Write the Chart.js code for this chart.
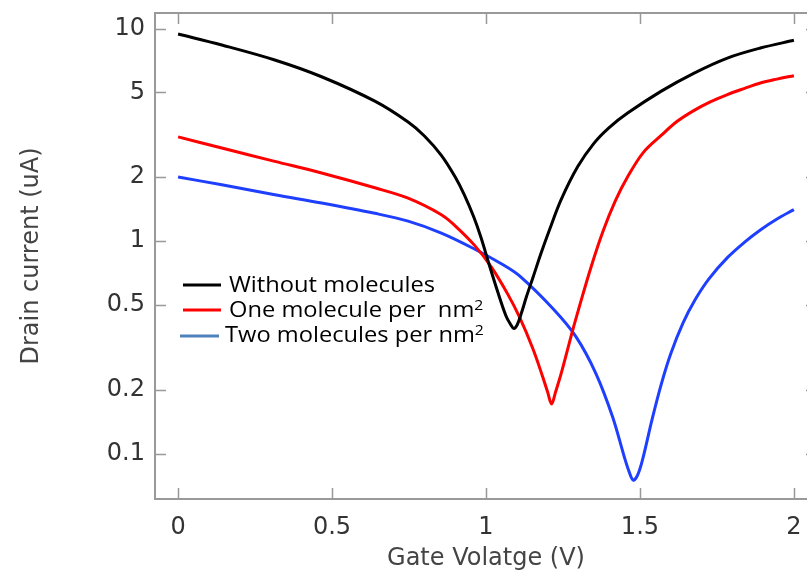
<!DOCTYPE html>
<html>
<head>
<meta charset="utf-8">
<script src="https://cdn.jsdelivr.net/npm/chart.js@4.4.1/dist/chart.umd.min.js"></script>
<style>
  html, body { margin: 0; padding: 0; background: #fff; overflow: hidden; }
  #wrap { width: 830px; height: 573px; }
</style>
</head>
<body>
<div id="wrap"><canvas id="myChart" width="830" height="573"></canvas></div>
<script>
// values (gate voltage in V, drain current in uA)
const blackX = [0, 0.142, 0.314, 0.466, 0.639, 0.747, 0.80, 0.855, 0.90, 0.93, 0.96, 0.984, 1.01, 1.038, 1.065, 1.08, 1.09, 1.101, 1.115, 1.131, 1.152, 1.179, 1.206, 1.244, 1.298, 1.351, 1.40, 1.46, 1.568, 1.676, 1.784, 1.891, 2.0];
const blackY = [9.42, 8.36, 7.11, 5.93, 4.55, 3.63, 3.12, 2.53, 2.0, 1.645, 1.30, 1.036, 0.777, 0.577, 0.444, 0.405, 0.388, 0.4025, 0.458, 0.545, 0.670, 0.878, 1.127, 1.565, 2.24, 2.89, 3.42, 4.0, 5.06, 6.17, 7.26, 8.09, 8.8];

const redX = [0, 0.142, 0.314, 0.466, 0.639, 0.747, 0.855, 0.898, 0.963, 1.017, 1.071, 1.109, 1.152, 1.184, 1.20, 1.213, 1.226, 1.244, 1.281, 1.30, 1.34, 1.38, 1.42, 1.46, 1.51, 1.568, 1.62, 1.676, 1.73, 1.784, 1.84, 1.891, 1.945, 2.0];
const redY = [3.09, 2.74, 2.37, 2.09, 1.78, 1.59, 1.33, 1.186, 0.954, 0.755, 0.561, 0.438, 0.312, 0.230, 0.195, 0.171, 0.195, 0.2375, 0.378, 0.473, 0.745, 1.112, 1.546, 2.005, 2.60, 3.13, 3.65, 4.12, 4.53, 4.89, 5.23, 5.54, 5.78, 6.0];

const blueX = [0, 0.142, 0.314, 0.466, 0.639, 0.747, 0.855, 0.961, 1.054, 1.109, 1.217, 1.292, 1.357, 1.411, 1.449, 1.465, 1.478, 1.492, 1.508, 1.54, 1.57, 1.60, 1.64, 1.68, 1.724, 1.784, 1.84, 1.891, 1.945, 2.0];
const blueY = [2.0, 1.84, 1.65, 1.51, 1.35, 1.24, 1.09, 0.92, 0.775, 0.685, 0.481, 0.355, 0.238, 0.149, 0.0966, 0.082, 0.075, 0.079, 0.093, 0.146, 0.214, 0.295, 0.412, 0.532, 0.664, 0.835, 0.988, 1.127, 1.269, 1.406];

const xTicks = [0, 0.5, 1, 1.5, 2];
const yTicks = [0.1, 0.2, 0.5, 1, 2, 5, 10];

const seriesNames = ['Without molecules', 'One molecule per  nm', 'Two molecules per nm'];

function pts(xs, ys) {
  return xs.map((x, i) => ({ x: x, y: ys[i] }));
}

// box around the plot + ticks pointing inwards on all four sides
// (the canvas is wider than the window, the right side of the box is cut off)
const frameTicks = {
  id: 'frameTicks',
  afterDraw(chart) {
    const { ctx, chartArea: a, scales } = chart;
    ctx.save();
    ctx.strokeStyle = '#999';
    ctx.lineWidth = 2;
    ctx.strokeRect(a.left, a.top, a.right - a.left, a.bottom - a.top);
    ctx.lineWidth = 1.5;
    ctx.beginPath();
    xTicks.forEach((v) => {
      const px = Math.round(scales.x.getPixelForValue(v)) + 0.5;
      ctx.moveTo(px, a.bottom); ctx.lineTo(px, a.bottom - 11);
      ctx.moveTo(px, a.top); ctx.lineTo(px, a.top + 11);
    });
    yTicks.forEach((v) => {
      const py = Math.round(scales.y.getPixelForValue(v)) + 0.5;
      ctx.moveTo(a.left, py); ctx.lineTo(a.left + 11, py);
      ctx.moveTo(a.right, py); ctx.lineTo(a.right - 11, py);
    });
    ctx.stroke();
    ctx.restore();
  }
};

// pasted-in style legend
const boxLegend = {
  id: 'boxLegend',
  afterDraw(chart) {
    const ctx = chart.ctx;
    const rows = [
      { color: '#000000', x1: 183, x2: 221, ly: 285, tx: 229, ty: 292, sup: false },
      { color: '#ff0000', x1: 183, x2: 221, ly: 310, tx: 229, ty: 317, sup: true },
      { color: '#4f81bd', x1: 180, x2: 219, ly: 336, tx: 225, ty: 342, sup: true },
    ];
    ctx.save();
    ctx.font = '21px "Open Sans"';
    const sx = 206 / ctx.measureText(seriesNames[0]).width;
    rows.forEach((r, i) => {
      ctx.strokeStyle = r.color;
      ctx.lineWidth = 3;
      ctx.beginPath();
      ctx.moveTo(r.x1, r.ly);
      ctx.lineTo(r.x2, r.ly);
      ctx.stroke();

      ctx.save();
      ctx.translate(r.tx, r.ty);
      ctx.scale(sx, 1);
      ctx.fillStyle = '#000';
      ctx.textBaseline = 'alphabetic';
      ctx.font = '21px "Open Sans"';
      ctx.fillText(seriesNames[i], 0, 0);
      if (r.sup) {
        const w = ctx.measureText(seriesNames[i]).width;
        ctx.font = '14px "Open Sans"';
        ctx.fillText('2', w, -7);
      }
      ctx.restore();
    });
    ctx.restore();
  }
};

const tickFont = { family: 'DejaVu Sans', size: 24 };

new Chart(document.getElementById('myChart'), {
  type: 'line',
  data: {
    datasets: [
      { label: seriesNames[0], data: pts(blackX, blackY), borderColor: '#000000' },
      { label: seriesNames[1], data: pts(redX, redY), borderColor: '#ff0000' },
      { label: seriesNames[2], data: pts(blueX, blueY), borderColor: '#1f3fff' },
    ],
  },
  options: {
    responsive: false,
    devicePixelRatio: 1,
    animation: false,
    layout: { padding: { top: 13, right: 13, left: 0, bottom: 0 } },
    elements: {
      point: { radius: 0 },
      line: { borderWidth: 3, tension: 0.35, fill: false },
    },
    plugins: {
      legend: { display: false },
      tooltip: { enabled: false },
    },
    scales: {
      x: {
        type: 'linear',
        min: -0.075,
        max: 2.075,
        afterBuildTicks: (s) => { s.ticks = xTicks.map((v) => ({ value: v })); },
        afterFit: (s) => {
          s.height = 74;
          s.paddingLeft = 0; s.paddingRight = 0;
        },
        grid: { display: false, drawTicks: false },
        border: { display: false },
        ticks: { font: tickFont, color: '#333', padding: 14, maxRotation: 0, callback: (v) => String(v) },
        title: { display: true, text: 'Gate Volatge (V)', font: tickFont, color: '#444', padding: { top: 0, bottom: 0 } },
      },
      y: {
        type: 'logarithmic',
        min: 0.0611,
        max: 11.83,
        afterBuildTicks: (s) => { s.ticks = yTicks.map((v) => ({ value: v })); },
        afterFit: (s) => {
          s.width = 155;
          s.paddingTop = 0; s.paddingBottom = 0;
        },
        grid: { display: false, drawTicks: false },
        border: { display: false },
        ticks: { font: tickFont, color: '#333', padding: 10, callback: (v) => String(v) },
        title: { display: true, text: 'Drain current (uA)', font: tickFont, color: '#444', padding: { top: 17, bottom: 0 } },
      },
    },
  },
  plugins: [frameTicks, boxLegend],
});
</script>
</body>
</html>
